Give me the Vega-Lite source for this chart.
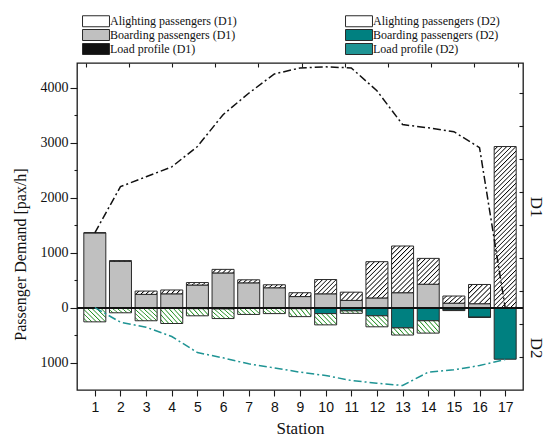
{
  "$schema": "https://vega.github.io/schema/vega-lite/v6.json",
  "width": 446,
  "height": 327,
  "autosize": {"type": "none"},
  "padding": {"left": 77, "top": 63, "right": 22, "bottom": 52},
  "background": "#ffffff",
  "config": {
    "font": "Liberation Serif",
    "view": {"stroke": "#1a1a1a", "strokeWidth": 1.3},
    "axis": {"grid": false, "domain": false, "labelColor": "#111111", "tickColor": "#1a1a1a", "titleColor": "#111111", "titleFontWeight": "normal", "tickWidth": 1.1}
  },
  "data": {
    "values": [
      {"station": 1, "bD1": 1360, "aD1": 0, "bD2": 0, "aD2": -260, "lD1": 1360, "lD2": 0},
      {"station": 2, "bD1": 840, "aD1": 15, "bD2": 0, "aD2": -95, "lD1": 2200, "lD2": -267},
      {"station": 3, "bD1": 240, "aD1": 60, "bD2": 0, "aD2": -240, "lD1": 2380, "lD2": -358},
      {"station": 4, "bD1": 250, "aD1": 70, "bD2": 0, "aD2": -290, "lD1": 2560, "lD2": -527},
      {"station": 5, "bD1": 410, "aD1": 45, "bD2": -20, "aD2": -130, "lD1": 2930, "lD2": -818},
      {"station": 6, "bD1": 630, "aD1": 65, "bD2": -25, "aD2": -175, "lD1": 3510, "lD2": -915},
      {"station": 7, "bD1": 450, "aD1": 55, "bD2": -15, "aD2": -110, "lD1": 3900, "lD2": -1024},
      {"station": 8, "bD1": 360, "aD1": 55, "bD2": -15, "aD2": -95, "lD1": 4250, "lD2": -1097},
      {"station": 9, "bD1": 200, "aD1": 70, "bD2": -20, "aD2": -145, "lD1": 4360, "lD2": -1176},
      {"station": 10, "bD1": 250, "aD1": 260, "bD2": -110, "aD2": -205, "lD1": 4380, "lD2": -1236},
      {"station": 11, "bD1": 130, "aD1": 150, "bD2": -60, "aD2": -45, "lD1": 4360, "lD2": -1327},
      {"station": 12, "bD1": 175, "aD1": 660, "bD2": -150, "aD2": -200, "lD1": 3945, "lD2": -1376},
      {"station": 13, "bD1": 270, "aD1": 850, "bD2": -370, "aD2": -130, "lD1": 3330, "lD2": -1418},
      {"station": 14, "bD1": 425, "aD1": 470, "bD2": -240, "aD2": -225, "lD1": 3270, "lD2": -1176},
      {"station": 15, "bD1": 80, "aD1": 130, "bD2": -45, "aD2": -10, "lD1": 3200, "lD2": -1133},
      {"station": 16, "bD1": 70, "aD1": 350, "bD2": -175, "aD2": -5, "lD1": 2910, "lD2": -1055},
      {"station": 17, "bD1": 0, "aD1": 2930, "bD2": -940, "aD2": 0, "lD1": 0, "lD2": -945}
    ]
  },
  "layer": [
    {
      "transform": [{"fold": ["bD1", "aD1", "bD2", "aD2"], "as": ["series", "value"]}],
      "mark": {"type": "bar", "orient": "vertical", "width": 22, "stroke": "#2a2a2a", "strokeWidth": 1},
      "encoding": {
        "x": {
          "field": "station", "type": "quantitative",
          "scale": {"domain": [0.5, 17.5], "nice": false, "zero": false},
          "axis": {"orient": "bottom", "values": [1,2,3,4,5,6,7,8,9,10,11,12,13,14,15,16,17], "format": "d", "labelFont": "Liberation Sans", "labelFontSize": 14, "labelPadding": 4, "tickSize": 6, "labelFlush": false, "labelOverlap": false, "title": "Station", "titleFontSize": 17, "titlePadding": 6}
        },
        "y": {
          "field": "value", "type": "quantitative", "stack": "zero",
          "scale": {"domain": [-1500, 4450], "nice": false, "zero": false},
          "axis": {"orient": "left", "values": [-1000, 0, 1000, 2000, 3000, 4000], "labelExpr": "format(abs(datum.value), 'd')", "labelFontSize": 14, "labelPadding": 2, "tickSize": 7, "title": "Passenger Demand [pax/h]", "titleFontSize": 16, "titlePadding": 12, "titleY": 191}
        },
        "order": {"field": "series", "sort": "descending"},
        "fill": {
          "field": "series", "type": "nominal",
          "scale": {"domain": ["aD1", "bD1", "lD1", "aD2", "bD2", "lD2"], "range": ["#ffffff", "#c0c0c0", "#111111", "#ffffff", "#008080", "#1f9494"]},
          "condition": [
            {"test": "datum.series === 'aD1' && datum.station === 17", "value": {"gradient": "linear", "x1": 0, "y1": 0, "x2": 0.1525, "y2": 1.1158, "stops": [
              {"offset": 0, "color": "#fff"}, {"offset": 0.01375, "color": "#fff"}, {"offset": 0.01875, "color": "#000"},
              {"offset": 0.025, "color": "#fff"}, {"offset": 0.03875, "color": "#fff"}, {"offset": 0.04375, "color": "#000"},
              {"offset": 0.05, "color": "#fff"}, {"offset": 0.06375, "color": "#fff"}, {"offset": 0.06875, "color": "#000"},
              {"offset": 0.075, "color": "#fff"}, {"offset": 0.08875, "color": "#fff"}, {"offset": 0.09375, "color": "#000"},
              {"offset": 0.1, "color": "#fff"}, {"offset": 0.11375, "color": "#fff"}, {"offset": 0.11875, "color": "#000"},
              {"offset": 0.125, "color": "#fff"}, {"offset": 0.13875, "color": "#fff"}, {"offset": 0.14375, "color": "#000"},
              {"offset": 0.15, "color": "#fff"}, {"offset": 0.16375, "color": "#fff"}, {"offset": 0.16875, "color": "#000"},
              {"offset": 0.175, "color": "#fff"}, {"offset": 0.18875, "color": "#fff"}, {"offset": 0.19375, "color": "#000"},
              {"offset": 0.2, "color": "#fff"}, {"offset": 0.21375, "color": "#fff"}, {"offset": 0.21875, "color": "#000"},
              {"offset": 0.225, "color": "#fff"}, {"offset": 0.23875, "color": "#fff"}, {"offset": 0.24375, "color": "#000"},
              {"offset": 0.25, "color": "#fff"}, {"offset": 0.26375, "color": "#fff"}, {"offset": 0.26875, "color": "#000"},
              {"offset": 0.275, "color": "#fff"}, {"offset": 0.28875, "color": "#fff"}, {"offset": 0.29375, "color": "#000"},
              {"offset": 0.3, "color": "#fff"}, {"offset": 0.31375, "color": "#fff"}, {"offset": 0.31875, "color": "#000"},
              {"offset": 0.325, "color": "#fff"}, {"offset": 0.33875, "color": "#fff"}, {"offset": 0.34375, "color": "#000"},
              {"offset": 0.35, "color": "#fff"}, {"offset": 0.36375, "color": "#fff"}, {"offset": 0.36875, "color": "#000"},
              {"offset": 0.375, "color": "#fff"}, {"offset": 0.38875, "color": "#fff"}, {"offset": 0.39375, "color": "#000"},
              {"offset": 0.4, "color": "#fff"}, {"offset": 0.41375, "color": "#fff"}, {"offset": 0.41875, "color": "#000"},
              {"offset": 0.425, "color": "#fff"}, {"offset": 0.43875, "color": "#fff"}, {"offset": 0.44375, "color": "#000"},
              {"offset": 0.45, "color": "#fff"}, {"offset": 0.46375, "color": "#fff"}, {"offset": 0.46875, "color": "#000"},
              {"offset": 0.475, "color": "#fff"}, {"offset": 0.48875, "color": "#fff"}, {"offset": 0.49375, "color": "#000"},
              {"offset": 0.5, "color": "#fff"}, {"offset": 0.51375, "color": "#fff"}, {"offset": 0.51875, "color": "#000"},
              {"offset": 0.525, "color": "#fff"}, {"offset": 0.53875, "color": "#fff"}, {"offset": 0.54375, "color": "#000"},
              {"offset": 0.55, "color": "#fff"}, {"offset": 0.56375, "color": "#fff"}, {"offset": 0.56875, "color": "#000"},
              {"offset": 0.575, "color": "#fff"}, {"offset": 0.58875, "color": "#fff"}, {"offset": 0.59375, "color": "#000"},
              {"offset": 0.6, "color": "#fff"}, {"offset": 0.61375, "color": "#fff"}, {"offset": 0.61875, "color": "#000"},
              {"offset": 0.625, "color": "#fff"}, {"offset": 0.63875, "color": "#fff"}, {"offset": 0.64375, "color": "#000"},
              {"offset": 0.65, "color": "#fff"}, {"offset": 0.66375, "color": "#fff"}, {"offset": 0.66875, "color": "#000"},
              {"offset": 0.675, "color": "#fff"}, {"offset": 0.68875, "color": "#fff"}, {"offset": 0.69375, "color": "#000"},
              {"offset": 0.7, "color": "#fff"}, {"offset": 0.71375, "color": "#fff"}, {"offset": 0.71875, "color": "#000"},
              {"offset": 0.725, "color": "#fff"}, {"offset": 0.73875, "color": "#fff"}, {"offset": 0.74375, "color": "#000"},
              {"offset": 0.75, "color": "#fff"}, {"offset": 0.76375, "color": "#fff"}, {"offset": 0.76875, "color": "#000"},
              {"offset": 0.775, "color": "#fff"}, {"offset": 0.78875, "color": "#fff"}, {"offset": 0.79375, "color": "#000"},
              {"offset": 0.8, "color": "#fff"}, {"offset": 0.81375, "color": "#fff"}, {"offset": 0.81875, "color": "#000"},
              {"offset": 0.825, "color": "#fff"}, {"offset": 0.83875, "color": "#fff"}, {"offset": 0.84375, "color": "#000"},
              {"offset": 0.85, "color": "#fff"}, {"offset": 0.86375, "color": "#fff"}, {"offset": 0.86875, "color": "#000"},
              {"offset": 0.875, "color": "#fff"}, {"offset": 0.88875, "color": "#fff"}, {"offset": 0.89375, "color": "#000"},
              {"offset": 0.9, "color": "#fff"}, {"offset": 0.91375, "color": "#fff"}, {"offset": 0.91875, "color": "#000"},
              {"offset": 0.925, "color": "#fff"}, {"offset": 0.93875, "color": "#fff"}, {"offset": 0.94375, "color": "#000"},
              {"offset": 0.95, "color": "#fff"}, {"offset": 0.96375, "color": "#fff"}, {"offset": 0.96875, "color": "#000"},
              {"offset": 0.975, "color": "#fff"}, {"offset": 0.98875, "color": "#fff"}, {"offset": 0.99375, "color": "#000"},
              {"offset": 1, "color": "#fff"}]}},
            {"test": "datum.series === 'aD1' && datum.station === 13", "value": {"gradient": "linear", "x1": 0, "y1": 0, "x2": 0.567, "y2": 1.204, "stops": [
              {"offset": 0, "color": "#fff"}, {"offset": 0.0393, "color": "#fff"}, {"offset": 0.0536, "color": "#000"},
              {"offset": 0.0714, "color": "#fff"}, {"offset": 0.1107, "color": "#fff"}, {"offset": 0.125, "color": "#000"},
              {"offset": 0.1429, "color": "#fff"}, {"offset": 0.1821, "color": "#fff"}, {"offset": 0.1964, "color": "#000"},
              {"offset": 0.2143, "color": "#fff"}, {"offset": 0.2536, "color": "#fff"}, {"offset": 0.2679, "color": "#000"},
              {"offset": 0.2857, "color": "#fff"}, {"offset": 0.325, "color": "#fff"}, {"offset": 0.3393, "color": "#000"},
              {"offset": 0.3571, "color": "#fff"}, {"offset": 0.3964, "color": "#fff"}, {"offset": 0.4107, "color": "#000"},
              {"offset": 0.4286, "color": "#fff"}, {"offset": 0.4679, "color": "#fff"}, {"offset": 0.4821, "color": "#000"},
              {"offset": 0.5, "color": "#fff"}, {"offset": 0.5393, "color": "#fff"}, {"offset": 0.5536, "color": "#000"},
              {"offset": 0.5714, "color": "#fff"}, {"offset": 0.6107, "color": "#fff"}, {"offset": 0.625, "color": "#000"},
              {"offset": 0.6429, "color": "#fff"}, {"offset": 0.6821, "color": "#fff"}, {"offset": 0.6964, "color": "#000"},
              {"offset": 0.7143, "color": "#fff"}, {"offset": 0.7536, "color": "#fff"}, {"offset": 0.7679, "color": "#000"},
              {"offset": 0.7857, "color": "#fff"}, {"offset": 0.825, "color": "#fff"}, {"offset": 0.8393, "color": "#000"},
              {"offset": 0.8571, "color": "#fff"}, {"offset": 0.8964, "color": "#fff"}, {"offset": 0.9107, "color": "#000"},
              {"offset": 0.9286, "color": "#fff"}, {"offset": 0.9679, "color": "#fff"}, {"offset": 0.9821, "color": "#000"},
              {"offset": 1, "color": "#fff"}]}},
            {"test": "datum.series === 'aD1' && datum.station === 12", "value": {"gradient": "linear", "x1": 0, "y1": 0, "x2": 0.712, "y2": 1.175, "stops": [
              {"offset": 0, "color": "#fff"}, {"offset": 0.0458, "color": "#fff"}, {"offset": 0.0625, "color": "#000"},
              {"offset": 0.0833, "color": "#fff"}, {"offset": 0.1292, "color": "#fff"}, {"offset": 0.1458, "color": "#000"},
              {"offset": 0.1667, "color": "#fff"}, {"offset": 0.2125, "color": "#fff"}, {"offset": 0.2292, "color": "#000"},
              {"offset": 0.25, "color": "#fff"}, {"offset": 0.2958, "color": "#fff"}, {"offset": 0.3125, "color": "#000"},
              {"offset": 0.3333, "color": "#fff"}, {"offset": 0.3792, "color": "#fff"}, {"offset": 0.3958, "color": "#000"},
              {"offset": 0.4167, "color": "#fff"}, {"offset": 0.4625, "color": "#fff"}, {"offset": 0.4792, "color": "#000"},
              {"offset": 0.5, "color": "#fff"}, {"offset": 0.5458, "color": "#fff"}, {"offset": 0.5625, "color": "#000"},
              {"offset": 0.5833, "color": "#fff"}, {"offset": 0.6292, "color": "#fff"}, {"offset": 0.6458, "color": "#000"},
              {"offset": 0.6667, "color": "#fff"}, {"offset": 0.7125, "color": "#fff"}, {"offset": 0.7292, "color": "#000"},
              {"offset": 0.75, "color": "#fff"}, {"offset": 0.7958, "color": "#fff"}, {"offset": 0.8125, "color": "#000"},
              {"offset": 0.8333, "color": "#fff"}, {"offset": 0.8792, "color": "#fff"}, {"offset": 0.8958, "color": "#000"},
              {"offset": 0.9167, "color": "#fff"}, {"offset": 0.9625, "color": "#fff"}, {"offset": 0.9792, "color": "#000"},
              {"offset": 1, "color": "#fff"}]}},
            {"test": "datum.series === 'aD1' && datum.station === 14", "value": {"gradient": "linear", "x1": 0, "y1": 0, "x2": 0.915, "y2": 1.073, "stops": [
              {"offset": 0, "color": "#fff"}, {"offset": 0.055, "color": "#fff"}, {"offset": 0.075, "color": "#000"},
              {"offset": 0.1, "color": "#fff"}, {"offset": 0.155, "color": "#fff"}, {"offset": 0.175, "color": "#000"},
              {"offset": 0.2, "color": "#fff"}, {"offset": 0.255, "color": "#fff"}, {"offset": 0.275, "color": "#000"},
              {"offset": 0.3, "color": "#fff"}, {"offset": 0.355, "color": "#fff"}, {"offset": 0.375, "color": "#000"},
              {"offset": 0.4, "color": "#fff"}, {"offset": 0.455, "color": "#fff"}, {"offset": 0.475, "color": "#000"},
              {"offset": 0.5, "color": "#fff"}, {"offset": 0.555, "color": "#fff"}, {"offset": 0.575, "color": "#000"},
              {"offset": 0.6, "color": "#fff"}, {"offset": 0.655, "color": "#fff"}, {"offset": 0.675, "color": "#000"},
              {"offset": 0.7, "color": "#fff"}, {"offset": 0.755, "color": "#fff"}, {"offset": 0.775, "color": "#000"},
              {"offset": 0.8, "color": "#fff"}, {"offset": 0.855, "color": "#fff"}, {"offset": 0.875, "color": "#000"},
              {"offset": 0.9, "color": "#fff"}, {"offset": 0.955, "color": "#fff"}, {"offset": 0.975, "color": "#000"},
              {"offset": 1, "color": "#fff"}]}},
            {"test": "datum.series === 'aD1' && datum.station === 16", "value": {"gradient": "linear", "x1": 0, "y1": 0, "x2": 1.063, "y2": 0.928, "stops": [
              {"offset": 0, "color": "#fff"}, {"offset": 0.0688, "color": "#fff"}, {"offset": 0.0938, "color": "#000"},
              {"offset": 0.125, "color": "#fff"}, {"offset": 0.1938, "color": "#fff"}, {"offset": 0.2188, "color": "#000"},
              {"offset": 0.25, "color": "#fff"}, {"offset": 0.3188, "color": "#fff"}, {"offset": 0.3438, "color": "#000"},
              {"offset": 0.375, "color": "#fff"}, {"offset": 0.4438, "color": "#fff"}, {"offset": 0.4688, "color": "#000"},
              {"offset": 0.5, "color": "#fff"}, {"offset": 0.5688, "color": "#fff"}, {"offset": 0.5938, "color": "#000"},
              {"offset": 0.625, "color": "#fff"}, {"offset": 0.6938, "color": "#fff"}, {"offset": 0.7188, "color": "#000"},
              {"offset": 0.75, "color": "#fff"}, {"offset": 0.8188, "color": "#fff"}, {"offset": 0.8438, "color": "#000"},
              {"offset": 0.875, "color": "#fff"}, {"offset": 0.9438, "color": "#fff"}, {"offset": 0.9688, "color": "#000"},
              {"offset": 1, "color": "#fff"}]}},
            {"test": "datum.series === 'aD1' && datum.station === 10", "value": {"gradient": "linear", "x1": 0, "y1": 0, "x2": 1.16, "y2": 0.754, "stops": [
              {"offset": 0, "color": "#fff"}, {"offset": 0.0688, "color": "#fff"}, {"offset": 0.0938, "color": "#000"},
              {"offset": 0.125, "color": "#fff"}, {"offset": 0.1938, "color": "#fff"}, {"offset": 0.2188, "color": "#000"},
              {"offset": 0.25, "color": "#fff"}, {"offset": 0.3188, "color": "#fff"}, {"offset": 0.3438, "color": "#000"},
              {"offset": 0.375, "color": "#fff"}, {"offset": 0.4438, "color": "#fff"}, {"offset": 0.4688, "color": "#000"},
              {"offset": 0.5, "color": "#fff"}, {"offset": 0.5688, "color": "#fff"}, {"offset": 0.5938, "color": "#000"},
              {"offset": 0.625, "color": "#fff"}, {"offset": 0.6938, "color": "#fff"}, {"offset": 0.7188, "color": "#000"},
              {"offset": 0.75, "color": "#fff"}, {"offset": 0.8188, "color": "#fff"}, {"offset": 0.8438, "color": "#000"},
              {"offset": 0.875, "color": "#fff"}, {"offset": 0.9438, "color": "#fff"}, {"offset": 0.9688, "color": "#000"},
              {"offset": 1, "color": "#fff"}]}},
            {"test": "datum.series === 'aD1' && (datum.station === 11 || datum.station === 15)", "value": {"gradient": "linear", "x1": 0, "y1": 0, "x2": 1.204, "y2": 0.438, "stops": [
              {"offset": 0, "color": "#fff"}, {"offset": 0.0917, "color": "#fff"}, {"offset": 0.125, "color": "#000"},
              {"offset": 0.1667, "color": "#fff"}, {"offset": 0.2583, "color": "#fff"}, {"offset": 0.2917, "color": "#000"},
              {"offset": 0.3333, "color": "#fff"}, {"offset": 0.425, "color": "#fff"}, {"offset": 0.4583, "color": "#000"},
              {"offset": 0.5, "color": "#fff"}, {"offset": 0.5917, "color": "#fff"}, {"offset": 0.625, "color": "#000"},
              {"offset": 0.6667, "color": "#fff"}, {"offset": 0.7583, "color": "#fff"}, {"offset": 0.7917, "color": "#000"},
              {"offset": 0.8333, "color": "#fff"}, {"offset": 0.925, "color": "#fff"}, {"offset": 0.9583, "color": "#000"},
              {"offset": 1, "color": "#fff"}]}},
            {"test": "datum.series === 'aD1'", "value": {"gradient": "linear", "x1": 0, "y1": 0, "x2": 1.131, "y2": 0.18, "stops": [
              {"offset": 0, "color": "#fff"}, {"offset": 0.11, "color": "#fff"}, {"offset": 0.15, "color": "#000"},
              {"offset": 0.2, "color": "#fff"}, {"offset": 0.31, "color": "#fff"}, {"offset": 0.35, "color": "#000"},
              {"offset": 0.4, "color": "#fff"}, {"offset": 0.51, "color": "#fff"}, {"offset": 0.55, "color": "#000"},
              {"offset": 0.6, "color": "#fff"}, {"offset": 0.71, "color": "#fff"}, {"offset": 0.75, "color": "#000"},
              {"offset": 0.8, "color": "#fff"}, {"offset": 0.91, "color": "#fff"}, {"offset": 0.95, "color": "#000"},
              {"offset": 1, "color": "#fff"}]}},
            {"test": "datum.series === 'aD2' && indexof([1, 3, 4], datum.station) >= 0", "value": {"gradient": "linear", "x1": 0, "y1": 1, "x2": 1.157, "y2": 0.238, "stops": [
              {"offset": 0, "color": "#fff"}, {"offset": 0.0688, "color": "#fff"}, {"offset": 0.0938, "color": "#1e8c1e"},
              {"offset": 0.125, "color": "#fff"}, {"offset": 0.1938, "color": "#fff"}, {"offset": 0.2188, "color": "#1e8c1e"},
              {"offset": 0.25, "color": "#fff"}, {"offset": 0.3188, "color": "#fff"}, {"offset": 0.3438, "color": "#1e8c1e"},
              {"offset": 0.375, "color": "#fff"}, {"offset": 0.4438, "color": "#fff"}, {"offset": 0.4688, "color": "#1e8c1e"},
              {"offset": 0.5, "color": "#fff"}, {"offset": 0.5688, "color": "#fff"}, {"offset": 0.5938, "color": "#1e8c1e"},
              {"offset": 0.625, "color": "#fff"}, {"offset": 0.6938, "color": "#fff"}, {"offset": 0.7188, "color": "#1e8c1e"},
              {"offset": 0.75, "color": "#fff"}, {"offset": 0.8188, "color": "#fff"}, {"offset": 0.8438, "color": "#1e8c1e"},
              {"offset": 0.875, "color": "#fff"}, {"offset": 0.9438, "color": "#fff"}, {"offset": 0.9688, "color": "#1e8c1e"},
              {"offset": 1, "color": "#fff"}]}},
            {"test": "datum.series === 'aD2' && indexof([6, 10, 12, 14], datum.station) >= 0", "value": {"gradient": "linear", "x1": 0, "y1": 1, "x2": 1.2, "y2": 0.4, "stops": [
              {"offset": 0, "color": "#fff"}, {"offset": 0.0786, "color": "#fff"}, {"offset": 0.1071, "color": "#1e8c1e"},
              {"offset": 0.1429, "color": "#fff"}, {"offset": 0.2214, "color": "#fff"}, {"offset": 0.25, "color": "#1e8c1e"},
              {"offset": 0.2857, "color": "#fff"}, {"offset": 0.3643, "color": "#fff"}, {"offset": 0.3929, "color": "#1e8c1e"},
              {"offset": 0.4286, "color": "#fff"}, {"offset": 0.5071, "color": "#fff"}, {"offset": 0.5357, "color": "#1e8c1e"},
              {"offset": 0.5714, "color": "#fff"}, {"offset": 0.65, "color": "#fff"}, {"offset": 0.6786, "color": "#1e8c1e"},
              {"offset": 0.7143, "color": "#fff"}, {"offset": 0.7929, "color": "#fff"}, {"offset": 0.8214, "color": "#1e8c1e"},
              {"offset": 0.8571, "color": "#fff"}, {"offset": 0.9357, "color": "#fff"}, {"offset": 0.9643, "color": "#1e8c1e"},
              {"offset": 1, "color": "#fff"}]}},
            {"test": "datum.series === 'aD2' && indexof([2, 5, 7, 8, 9, 13], datum.station) >= 0", "value": {"gradient": "linear", "x1": 0, "y1": 1, "x2": 1.191, "y2": 0.648, "stops": [
              {"offset": 0, "color": "#fff"}, {"offset": 0.0917, "color": "#fff"}, {"offset": 0.125, "color": "#1e8c1e"},
              {"offset": 0.1667, "color": "#fff"}, {"offset": 0.2583, "color": "#fff"}, {"offset": 0.2917, "color": "#1e8c1e"},
              {"offset": 0.3333, "color": "#fff"}, {"offset": 0.425, "color": "#fff"}, {"offset": 0.4583, "color": "#1e8c1e"},
              {"offset": 0.5, "color": "#fff"}, {"offset": 0.5917, "color": "#fff"}, {"offset": 0.625, "color": "#1e8c1e"},
              {"offset": 0.6667, "color": "#fff"}, {"offset": 0.7583, "color": "#fff"}, {"offset": 0.7917, "color": "#1e8c1e"},
              {"offset": 0.8333, "color": "#fff"}, {"offset": 0.925, "color": "#fff"}, {"offset": 0.9583, "color": "#1e8c1e"},
              {"offset": 1, "color": "#fff"}]}},
            {"test": "datum.series === 'aD2'", "value": {"gradient": "linear", "x1": 0, "y1": 1, "x2": 1.1, "y2": 0.875, "stops": [
              {"offset": 0, "color": "#fff"}, {"offset": 0.11, "color": "#fff"}, {"offset": 0.15, "color": "#1e8c1e"},
              {"offset": 0.2, "color": "#fff"}, {"offset": 0.31, "color": "#fff"}, {"offset": 0.35, "color": "#1e8c1e"},
              {"offset": 0.4, "color": "#fff"}, {"offset": 0.51, "color": "#fff"}, {"offset": 0.55, "color": "#1e8c1e"},
              {"offset": 0.6, "color": "#fff"}, {"offset": 0.71, "color": "#fff"}, {"offset": 0.75, "color": "#1e8c1e"},
              {"offset": 0.8, "color": "#fff"}, {"offset": 0.91, "color": "#fff"}, {"offset": 0.95, "color": "#1e8c1e"},
              {"offset": 1, "color": "#fff"}]}}
          ],
          "legend": {
            "orient": "none", "legendX": 13, "legendY": -48,
            "title": null, "padding": 0,
            "columns": 2, "columnPadding": 106, "rowPadding": -2.5,
            "symbolSize": 121, "symbolType": "M-2.45,-1H2.45V1H-2.45Z",
            "symbolStrokeColor": "#2a2a2a", "symbolStrokeWidth": 1,
            "labelFont": "Liberation Serif", "labelFontSize": 12, "labelOffset": 8, "labelColor": "#111111", "labelLimit": 300,
            "labelExpr": "datum.value === 'aD1' ? 'Alighting passengers (D1)' : datum.value === 'aD2' ? 'Alighting passengers (D2)' : datum.value === 'bD1' ? 'Boarding passengers (D1)' : datum.value === 'bD2' ? 'Boarding passengers (D2)' : datum.value === 'lD1' ? 'Load profile (D1)' : 'Load profile (D2)'"
          }
        }
      }
    },
    {
      "mark": {"type": "rule", "color": "#111111", "strokeWidth": 1.2},
      "encoding": {
        "y": {
          "datum": 0, "type": "quantitative",
          "scale": {"domain": [-1500, 4450], "nice": false, "zero": false},
          "axis": {"orient": "right", "values": [1838, -728], "labelExpr": "datum.value > 0 ? 'D1' : 'D2'", "ticks": false, "tickSize": 0, "labelFontSize": 17, "labelAngle": 90, "labelAlign": "center", "labelBaseline": "alphabetic", "labelPadding": 7, "title": null}
        }
      }
    },
    {
      "mark": {"type": "line", "color": "#111111", "strokeWidth": 1.5, "strokeDash": [8, 3, 2, 3]},
      "encoding": {
        "x": {
          "field": "station", "type": "quantitative",
          "scale": {"domain": [0.5, 17.5], "nice": false, "zero": false},
          "axis": {"orient": "top", "values": [0.65, 2.33, 4.01, 5.7, 7.38, 9.07, 10.75, 12.43, 14.12, 15.8, 17.49], "labels": false, "tickSize": 4, "offset": -4, "title": null}
        },
        "y": {
          "field": "lD1", "type": "quantitative",
          "scale": {"domain": [-1500, 4450], "nice": false, "zero": false},
          "axis": {"orient": "right", "values": [-900, -300, 300, 900, 1500, 2100, 2700, 3300, 3900], "labels": false, "tickSize": 4, "offset": -4, "title": null}
        }
      }
    },
    {
      "mark": {"type": "line", "color": "#1f9494", "strokeWidth": 1.5, "strokeDash": [8, 3, 2, 3]},
      "encoding": {
        "x": {
          "field": "station", "type": "quantitative",
          "scale": {"domain": [0.5, 17.5], "nice": false, "zero": false},
          "axis": null
        },
        "y": {
          "field": "lD2", "type": "quantitative",
          "scale": {"domain": [-1500, 4450], "nice": false, "zero": false},
          "axis": {"orient": "left", "values": [-500, 500, 1500, 2500, 3500], "labels": false, "tickSize": 3, "title": null}
        }
      }
    }
  ],
  "resolve": {"axis": {"x": "independent", "y": "independent"}}
}
